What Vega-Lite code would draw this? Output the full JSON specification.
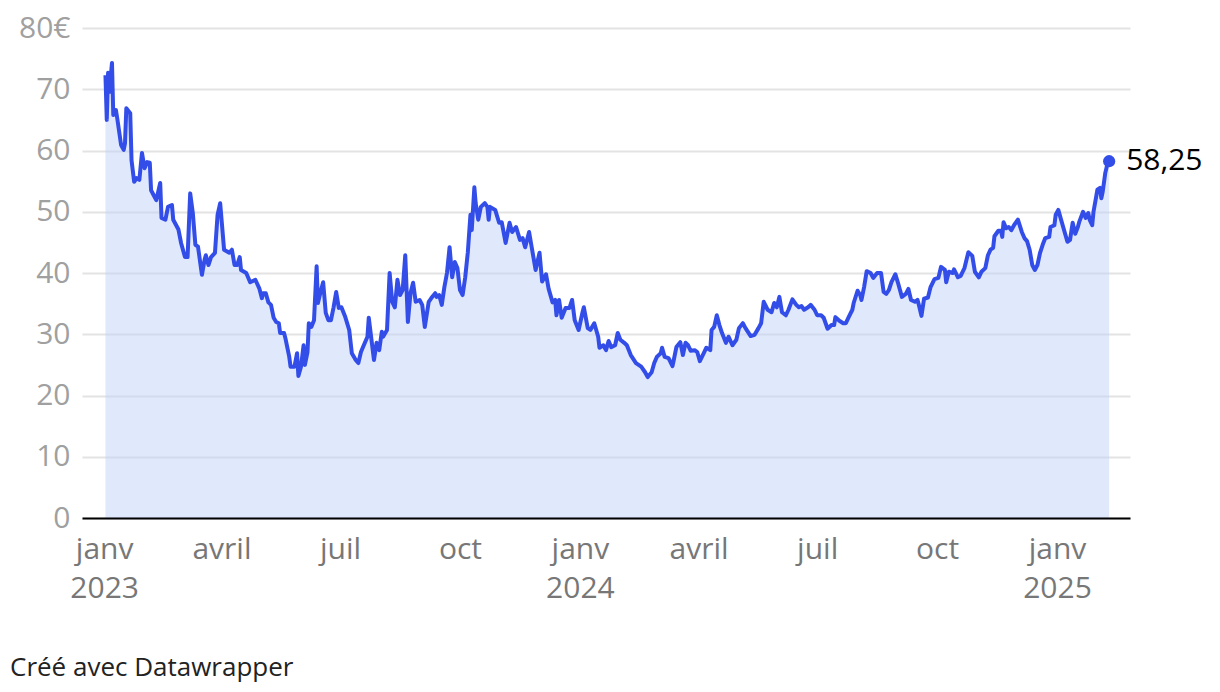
{
  "$schema": "https://vega.github.io/schema/vega-lite/v6.json",
  "autosize": {"type": "none"},
  "width": 1048,
  "height": 490,
  "padding": {"left": 82, "top": 28, "right": 90, "bottom": 174},
  "background": "white",
  "config": {
    "font": "Open Sans",
    "view": {"stroke": null},
    "locale": {"number": {"decimal": ",", "thousands": " ", "grouping": [3], "currency": ["", " €"]}}
  },
  "title": {
    "text": "Créé avec Datawrapper",
    "orient": "bottom",
    "anchor": "start",
    "frame": "group",
    "dx": -72,
    "offset": 52,
    "fontSize": 26,
    "fontWeight": "normal",
    "color": "#222222",
    "font": "Open Sans"
  },
  "data": {
    "values": [
      {"date": "2023-01-02", "value": 72.3}, {"date": "2023-01-03", "value": 65.0}, {"date": "2023-01-04", "value": 72.7}, {"date": "2023-01-05", "value": 69.6},
      {"date": "2023-01-07", "value": 74.3}, {"date": "2023-01-08", "value": 65.8}, {"date": "2023-01-10", "value": 66.6}, {"date": "2023-01-11", "value": 65.3},
      {"date": "2023-01-14", "value": 60.9}, {"date": "2023-01-16", "value": 60.1}, {"date": "2023-01-17", "value": 61.2}, {"date": "2023-01-18", "value": 66.9},
      {"date": "2023-01-21", "value": 66.1}, {"date": "2023-01-22", "value": 58.4}, {"date": "2023-01-24", "value": 54.9}, {"date": "2023-01-26", "value": 55.5},
      {"date": "2023-01-28", "value": 55.2}, {"date": "2023-01-30", "value": 59.6}, {"date": "2023-02-01", "value": 57.1}, {"date": "2023-02-03", "value": 58.1},
      {"date": "2023-02-05", "value": 58.0}, {"date": "2023-02-06", "value": 53.5}, {"date": "2023-02-08", "value": 52.7}, {"date": "2023-02-10", "value": 51.9},
      {"date": "2023-02-13", "value": 54.7}, {"date": "2023-02-14", "value": 49.0}, {"date": "2023-02-17", "value": 48.7}, {"date": "2023-02-19", "value": 50.8},
      {"date": "2023-02-22", "value": 51.1}, {"date": "2023-02-23", "value": 48.7}, {"date": "2023-02-27", "value": 47.1}, {"date": "2023-03-01", "value": 44.9},
      {"date": "2023-03-04", "value": 42.6}, {"date": "2023-03-06", "value": 42.6}, {"date": "2023-03-08", "value": 53.0}, {"date": "2023-03-10", "value": 49.8},
      {"date": "2023-03-12", "value": 44.6}, {"date": "2023-03-14", "value": 44.3}, {"date": "2023-03-17", "value": 39.7}, {"date": "2023-03-19", "value": 42.1},
      {"date": "2023-03-20", "value": 42.9}, {"date": "2023-03-22", "value": 41.3}, {"date": "2023-03-24", "value": 42.6}, {"date": "2023-03-27", "value": 43.3},
      {"date": "2023-03-29", "value": 49.5}, {"date": "2023-03-31", "value": 51.4}, {"date": "2023-04-03", "value": 43.8}, {"date": "2023-04-07", "value": 43.3},
      {"date": "2023-04-09", "value": 43.8}, {"date": "2023-04-11", "value": 41.3}, {"date": "2023-04-13", "value": 41.3}, {"date": "2023-04-15", "value": 42.6},
      {"date": "2023-04-16", "value": 40.5}, {"date": "2023-04-20", "value": 40.0}, {"date": "2023-04-23", "value": 38.5}, {"date": "2023-04-27", "value": 38.9},
      {"date": "2023-04-30", "value": 37.5}, {"date": "2023-05-02", "value": 35.9}, {"date": "2023-05-03", "value": 36.7}, {"date": "2023-05-05", "value": 36.7},
      {"date": "2023-05-07", "value": 35.2}, {"date": "2023-05-09", "value": 34.8}, {"date": "2023-05-11", "value": 32.7}, {"date": "2023-05-13", "value": 32.0},
      {"date": "2023-05-15", "value": 31.8}, {"date": "2023-05-16", "value": 30.2}, {"date": "2023-05-19", "value": 30.2}, {"date": "2023-05-20", "value": 29.4},
      {"date": "2023-05-23", "value": 26.3}, {"date": "2023-05-24", "value": 24.7}, {"date": "2023-05-27", "value": 24.7}, {"date": "2023-05-29", "value": 26.9},
      {"date": "2023-05-30", "value": 23.2}, {"date": "2023-06-01", "value": 24.7}, {"date": "2023-06-03", "value": 28.2}, {"date": "2023-06-04", "value": 25.0},
      {"date": "2023-06-06", "value": 27.1}, {"date": "2023-06-07", "value": 31.8}, {"date": "2023-06-09", "value": 31.2}, {"date": "2023-06-11", "value": 32.3},
      {"date": "2023-06-13", "value": 41.1}, {"date": "2023-06-14", "value": 35.1}, {"date": "2023-06-16", "value": 36.9}, {"date": "2023-06-18", "value": 38.5},
      {"date": "2023-06-20", "value": 33.5}, {"date": "2023-06-22", "value": 32.3}, {"date": "2023-06-24", "value": 32.3}, {"date": "2023-06-26", "value": 34.4},
      {"date": "2023-06-28", "value": 36.9}, {"date": "2023-06-30", "value": 34.3}, {"date": "2023-07-02", "value": 34.4}, {"date": "2023-07-05", "value": 32.8},
      {"date": "2023-07-08", "value": 30.7}, {"date": "2023-07-10", "value": 26.9}, {"date": "2023-07-13", "value": 25.8}, {"date": "2023-07-15", "value": 25.3},
      {"date": "2023-07-17", "value": 27.1}, {"date": "2023-07-20", "value": 28.6}, {"date": "2023-07-22", "value": 29.6}, {"date": "2023-07-23", "value": 32.7},
      {"date": "2023-07-27", "value": 25.8}, {"date": "2023-07-29", "value": 28.6}, {"date": "2023-07-31", "value": 27.4}, {"date": "2023-08-02", "value": 30.4},
      {"date": "2023-08-03", "value": 29.6}, {"date": "2023-08-06", "value": 30.7}, {"date": "2023-08-08", "value": 40.0}, {"date": "2023-08-10", "value": 35.3},
      {"date": "2023-08-12", "value": 34.4}, {"date": "2023-08-14", "value": 38.9}, {"date": "2023-08-16", "value": 36.4}, {"date": "2023-08-18", "value": 37.2},
      {"date": "2023-08-20", "value": 42.9}, {"date": "2023-08-22", "value": 32.0}, {"date": "2023-08-24", "value": 36.7}, {"date": "2023-08-26", "value": 38.4},
      {"date": "2023-08-28", "value": 35.3}, {"date": "2023-08-31", "value": 35.6}, {"date": "2023-09-02", "value": 34.8}, {"date": "2023-09-04", "value": 31.2},
      {"date": "2023-09-07", "value": 35.3}, {"date": "2023-09-09", "value": 35.9}, {"date": "2023-09-12", "value": 36.7}, {"date": "2023-09-13", "value": 36.1},
      {"date": "2023-09-15", "value": 36.4}, {"date": "2023-09-17", "value": 34.8}, {"date": "2023-09-19", "value": 37.7}, {"date": "2023-09-21", "value": 40.0},
      {"date": "2023-09-23", "value": 44.2}, {"date": "2023-09-25", "value": 39.3}, {"date": "2023-09-27", "value": 41.8}, {"date": "2023-09-29", "value": 40.8},
      {"date": "2023-10-01", "value": 37.2}, {"date": "2023-10-03", "value": 36.4}, {"date": "2023-10-05", "value": 39.3}, {"date": "2023-10-07", "value": 43.4},
      {"date": "2023-10-09", "value": 49.5}, {"date": "2023-10-10", "value": 47.0}, {"date": "2023-10-12", "value": 54.0}, {"date": "2023-10-13", "value": 51.4},
      {"date": "2023-10-15", "value": 48.7}, {"date": "2023-10-17", "value": 50.8}, {"date": "2023-10-20", "value": 51.4}, {"date": "2023-10-22", "value": 50.8},
      {"date": "2023-10-23", "value": 48.7}, {"date": "2023-10-24", "value": 50.8}, {"date": "2023-10-28", "value": 50.3}, {"date": "2023-10-31", "value": 48.2},
      {"date": "2023-11-02", "value": 48.3}, {"date": "2023-11-05", "value": 44.9}, {"date": "2023-11-08", "value": 48.2}, {"date": "2023-11-10", "value": 46.7},
      {"date": "2023-11-13", "value": 47.5}, {"date": "2023-11-16", "value": 45.4}, {"date": "2023-11-18", "value": 45.7}, {"date": "2023-11-20", "value": 44.2},
      {"date": "2023-11-23", "value": 46.7}, {"date": "2023-11-25", "value": 44.2}, {"date": "2023-11-28", "value": 40.5}, {"date": "2023-12-01", "value": 43.3},
      {"date": "2023-12-03", "value": 38.6}, {"date": "2023-12-06", "value": 39.8}, {"date": "2023-12-08", "value": 37.4}, {"date": "2023-12-11", "value": 35.2},
      {"date": "2023-12-13", "value": 35.6}, {"date": "2023-12-14", "value": 33.1}, {"date": "2023-12-16", "value": 35.6}, {"date": "2023-12-18", "value": 32.7},
      {"date": "2023-12-21", "value": 34.3}, {"date": "2023-12-24", "value": 34.3}, {"date": "2023-12-26", "value": 35.6}, {"date": "2023-12-28", "value": 32.3},
      {"date": "2023-12-31", "value": 30.7}, {"date": "2024-01-03", "value": 33.6}, {"date": "2024-01-04", "value": 34.4}, {"date": "2024-01-07", "value": 31.0},
      {"date": "2024-01-09", "value": 30.7}, {"date": "2024-01-12", "value": 31.8}, {"date": "2024-01-15", "value": 29.6}, {"date": "2024-01-16", "value": 27.8},
      {"date": "2024-01-19", "value": 28.2}, {"date": "2024-01-21", "value": 27.4}, {"date": "2024-01-23", "value": 28.9}, {"date": "2024-01-25", "value": 27.9},
      {"date": "2024-01-28", "value": 28.2}, {"date": "2024-01-30", "value": 30.2}, {"date": "2024-02-01", "value": 29.1}, {"date": "2024-02-04", "value": 28.6},
      {"date": "2024-02-06", "value": 28.2}, {"date": "2024-02-09", "value": 26.6}, {"date": "2024-02-13", "value": 25.3}, {"date": "2024-02-17", "value": 24.7},
      {"date": "2024-02-20", "value": 23.8}, {"date": "2024-02-22", "value": 23.0}, {"date": "2024-02-25", "value": 23.8}, {"date": "2024-02-27", "value": 25.3},
      {"date": "2024-02-29", "value": 26.3}, {"date": "2024-03-03", "value": 26.9}, {"date": "2024-03-04", "value": 27.8}, {"date": "2024-03-06", "value": 26.3},
      {"date": "2024-03-09", "value": 26.1}, {"date": "2024-03-12", "value": 24.8}, {"date": "2024-03-13", "value": 25.8}, {"date": "2024-03-15", "value": 27.9},
      {"date": "2024-03-18", "value": 28.7}, {"date": "2024-03-20", "value": 26.6}, {"date": "2024-03-22", "value": 28.6}, {"date": "2024-03-24", "value": 28.2},
      {"date": "2024-03-26", "value": 27.3}, {"date": "2024-03-29", "value": 27.4}, {"date": "2024-03-31", "value": 27.1}, {"date": "2024-04-02", "value": 25.6},
      {"date": "2024-04-05", "value": 26.9}, {"date": "2024-04-07", "value": 27.8}, {"date": "2024-04-10", "value": 27.4}, {"date": "2024-04-11", "value": 30.7},
      {"date": "2024-04-13", "value": 31.2}, {"date": "2024-04-15", "value": 33.1}, {"date": "2024-04-17", "value": 31.5}, {"date": "2024-04-19", "value": 30.2},
      {"date": "2024-04-22", "value": 28.6}, {"date": "2024-04-24", "value": 29.6}, {"date": "2024-04-27", "value": 28.2}, {"date": "2024-04-30", "value": 29.1},
      {"date": "2024-05-02", "value": 31.0}, {"date": "2024-05-05", "value": 31.8}, {"date": "2024-05-07", "value": 31.0}, {"date": "2024-05-11", "value": 29.7},
      {"date": "2024-05-14", "value": 29.9}, {"date": "2024-05-17", "value": 31.0}, {"date": "2024-05-19", "value": 31.8}, {"date": "2024-05-21", "value": 35.3},
      {"date": "2024-05-24", "value": 34.0}, {"date": "2024-05-27", "value": 33.6}, {"date": "2024-05-29", "value": 35.1}, {"date": "2024-05-31", "value": 34.4},
      {"date": "2024-06-02", "value": 36.1}, {"date": "2024-06-04", "value": 33.6}, {"date": "2024-06-07", "value": 33.1}, {"date": "2024-06-09", "value": 34.0},
      {"date": "2024-06-12", "value": 35.7}, {"date": "2024-06-15", "value": 34.8}, {"date": "2024-06-17", "value": 34.4}, {"date": "2024-06-19", "value": 34.6},
      {"date": "2024-06-21", "value": 34.0}, {"date": "2024-06-24", "value": 34.4}, {"date": "2024-06-26", "value": 34.8}, {"date": "2024-06-29", "value": 34.0},
      {"date": "2024-07-01", "value": 33.1}, {"date": "2024-07-04", "value": 33.1}, {"date": "2024-07-06", "value": 32.7}, {"date": "2024-07-09", "value": 30.9},
      {"date": "2024-07-12", "value": 31.5}, {"date": "2024-07-14", "value": 31.5}, {"date": "2024-07-15", "value": 32.8}, {"date": "2024-07-18", "value": 32.2},
      {"date": "2024-07-21", "value": 31.8}, {"date": "2024-07-23", "value": 31.8}, {"date": "2024-07-25", "value": 32.7}, {"date": "2024-07-28", "value": 34.0},
      {"date": "2024-07-29", "value": 35.1}, {"date": "2024-08-01", "value": 37.1}, {"date": "2024-08-03", "value": 36.4}, {"date": "2024-08-04", "value": 35.6},
      {"date": "2024-08-06", "value": 37.7}, {"date": "2024-08-08", "value": 40.3}, {"date": "2024-08-11", "value": 40.0}, {"date": "2024-08-13", "value": 39.2},
      {"date": "2024-08-16", "value": 40.0}, {"date": "2024-08-19", "value": 40.0}, {"date": "2024-08-21", "value": 36.9}, {"date": "2024-08-23", "value": 36.6},
      {"date": "2024-08-25", "value": 37.2}, {"date": "2024-08-27", "value": 38.5}, {"date": "2024-08-30", "value": 39.8}, {"date": "2024-09-01", "value": 38.4},
      {"date": "2024-09-04", "value": 36.1}, {"date": "2024-09-07", "value": 36.6}, {"date": "2024-09-09", "value": 37.4}, {"date": "2024-09-11", "value": 35.6},
      {"date": "2024-09-14", "value": 35.3}, {"date": "2024-09-16", "value": 35.6}, {"date": "2024-09-17", "value": 34.8}, {"date": "2024-09-19", "value": 33.0},
      {"date": "2024-09-21", "value": 35.8}, {"date": "2024-09-24", "value": 36.0}, {"date": "2024-09-26", "value": 37.7}, {"date": "2024-09-29", "value": 39.0},
      {"date": "2024-10-02", "value": 39.2}, {"date": "2024-10-04", "value": 41.0}, {"date": "2024-10-07", "value": 40.5}, {"date": "2024-10-08", "value": 38.5},
      {"date": "2024-10-10", "value": 40.2}, {"date": "2024-10-13", "value": 40.0}, {"date": "2024-10-14", "value": 40.6}, {"date": "2024-10-17", "value": 39.3},
      {"date": "2024-10-19", "value": 39.5}, {"date": "2024-10-22", "value": 40.8}, {"date": "2024-10-25", "value": 43.4}, {"date": "2024-10-28", "value": 42.8},
      {"date": "2024-10-30", "value": 40.2}, {"date": "2024-11-02", "value": 39.3}, {"date": "2024-11-04", "value": 40.2}, {"date": "2024-11-07", "value": 40.8},
      {"date": "2024-11-09", "value": 42.9}, {"date": "2024-11-11", "value": 43.8}, {"date": "2024-11-13", "value": 44.1}, {"date": "2024-11-14", "value": 46.0},
      {"date": "2024-11-17", "value": 46.9}, {"date": "2024-11-19", "value": 46.9}, {"date": "2024-11-20", "value": 45.9}, {"date": "2024-11-21", "value": 48.3},
      {"date": "2024-11-23", "value": 47.3}, {"date": "2024-11-25", "value": 47.5}, {"date": "2024-11-27", "value": 47.0}, {"date": "2024-11-29", "value": 47.8},
      {"date": "2024-12-02", "value": 48.7}, {"date": "2024-12-05", "value": 46.7}, {"date": "2024-12-07", "value": 45.7}, {"date": "2024-12-09", "value": 45.2},
      {"date": "2024-12-11", "value": 43.8}, {"date": "2024-12-13", "value": 41.3}, {"date": "2024-12-15", "value": 40.5}, {"date": "2024-12-17", "value": 41.3},
      {"date": "2024-12-19", "value": 43.3}, {"date": "2024-12-21", "value": 44.6}, {"date": "2024-12-23", "value": 45.7}, {"date": "2024-12-26", "value": 45.9},
      {"date": "2024-12-27", "value": 47.5}, {"date": "2024-12-30", "value": 47.8}, {"date": "2024-12-31", "value": 49.5}, {"date": "2025-01-02", "value": 50.3},
      {"date": "2025-01-04", "value": 48.8}, {"date": "2025-01-06", "value": 47.3}, {"date": "2025-01-09", "value": 45.1}, {"date": "2025-01-11", "value": 45.4},
      {"date": "2025-01-13", "value": 48.2}, {"date": "2025-01-15", "value": 46.4}, {"date": "2025-01-17", "value": 47.5}, {"date": "2025-01-18", "value": 48.3},
      {"date": "2025-01-21", "value": 50.0}, {"date": "2025-01-23", "value": 49.0}, {"date": "2025-01-25", "value": 49.8}, {"date": "2025-01-26", "value": 48.7},
      {"date": "2025-01-28", "value": 47.8}, {"date": "2025-01-29", "value": 50.0}, {"date": "2025-01-31", "value": 52.4}, {"date": "2025-02-01", "value": 53.6},
      {"date": "2025-02-03", "value": 53.9}, {"date": "2025-02-04", "value": 52.2}, {"date": "2025-02-05", "value": 53.2}, {"date": "2025-02-07", "value": 56.3},
      {"date": "2025-02-09", "value": 58.1}, {"date": "2025-02-10", "value": 58.25}
    ]
  },
  "encoding": {
    "x": {
      "field": "date",
      "type": "temporal",
      "scale": {"type": "utc", "domain": [{"year": 2022, "month": 12, "date": 15, "utc": true}, {"year": 2025, "month": 2, "date": 26, "utc": true}]},
      "axis": {
        "title": null,
        "values": [
          {"year": 2023, "month": 1, "date": 1, "utc": true}, {"year": 2023, "month": 4, "date": 1, "utc": true},
          {"year": 2023, "month": 7, "date": 1, "utc": true}, {"year": 2023, "month": 10, "date": 1, "utc": true},
          {"year": 2024, "month": 1, "date": 1, "utc": true}, {"year": 2024, "month": 4, "date": 1, "utc": true},
          {"year": 2024, "month": 7, "date": 1, "utc": true}, {"year": 2024, "month": 10, "date": 1, "utc": true},
          {"year": 2025, "month": 1, "date": 1, "utc": true}
        ],
        "labelExpr": "utcmonth(datum.value) == 0 ? ['janv', utcFormat(datum.value, '%Y')] : utcmonth(datum.value) == 3 ? 'avril' : utcmonth(datum.value) == 6 ? 'juil' : 'oct'",
        "labelFontSize": 30,
        "labelColor": "#777777",
        "labelPadding": 16,
        "labelLineHeight": 39,
        "labelBaseline": "top",
        "labelFlush": false,
        "labelOverlap": false,
        "ticks": false,
        "grid": false,
        "domainColor": "#000000",
        "domainWidth": 2,
        "zindex": 2
      }
    },
    "y": {
      "field": "value",
      "type": "quantitative",
      "scale": {"domain": [0, 80], "nice": false},
      "axis": {
        "title": null,
        "values": [0, 10, 20, 30, 40, 50, 60, 70, 80],
        "labelExpr": "datum.value == 80 ? '80€' : datum.label",
        "labelFontSize": 30,
        "labelColor": "#a0a0a0",
        "labelPadding": 12,
        "ticks": false,
        "domain": false,
        "gridColor": "#e3e3e3",
        "gridWidth": 2
      }
    }
  },
  "layer": [
    {"mark": {"type": "area", "color": "#c2d1fa", "opacity": 0.5}},
    {"mark": {"type": "line", "color": "#334ee8", "strokeWidth": 4, "strokeJoin": "round"}},
    {
      "transform": [{"filter": "datum.value == 58.25"}],
      "mark": {"type": "circle", "color": "#334ee8", "opacity": 1, "size": 150}
    },
    {
      "transform": [{"filter": "datum.value == 58.25"}],
      "mark": {"type": "text", "align": "left", "baseline": "middle", "dx": 17, "fontSize": 30, "color": "#000000"},
      "encoding": {"text": {"field": "value", "type": "quantitative", "format": ".2f"}}
    }
  ]
}
